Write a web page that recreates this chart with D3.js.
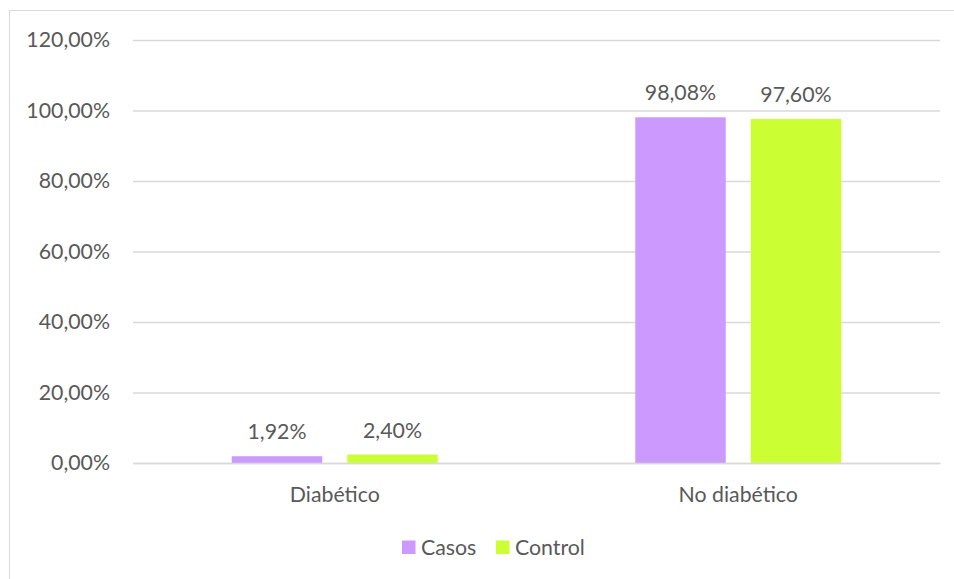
<!DOCTYPE html>
<html>
<head>
<meta charset="utf-8">
<script src="https://cdn.jsdelivr.net/npm/d3@7"></script>
<style>
  html, body { margin: 0; padding: 0; background: #ffffff; }
  svg { display: block; }
  text { font-family: Lato, "Open Sans", sans-serif; fill: #595959; }
</style>
</head>
<body>
<svg id="chart" width="954" height="579"></svg>
<script>
// Chart data
const categories = ["Diabético", "No diabético"];
const seriesNames = ["Casos", "Control"];
const casos = [1.92, 98.08];
const control = [2.40, 97.60];
const yTicks = [0, 20, 40, 60, 80, 100, 120];
const colors = ["#CC99FF", "#CCFF33"];

const seriesValues = [casos, control];
const rows = categories.map((c, i) => ({
  category: c,
  values: seriesNames.map((s, j) => ({ series: s, value: seriesValues[j][i], color: colors[j] }))
}));

const svg = d3.select("#chart");
const W = 954, H = 579;
const FONT = "Lato, 'Open Sans', sans-serif";
const FS = 21.3;

// Outer chart frame
svg.append("rect")
  .attr("x", 9.5).attr("y", 10.5)
  .attr("width", W - 9).attr("height", H)
  .attr("fill", "#fff").attr("stroke", "#d9d9d9").attr("stroke-width", 1);

const plot = { left: 133, right: 940, top: 40, bottom: 463 };

const y = d3.scaleLinear().domain([0, 120]).range([plot.bottom, plot.top]);
const x0 = d3.scaleBand().domain(categories).range([plot.left, plot.right])
  .paddingInner(0.4895).paddingOuter(0.24475);
const x1 = d3.scaleBand().domain(seriesNames).range([0, x0.bandwidth()]).paddingInner(0.2165);

const fmt = v => v.toFixed(2).replace(".", ",") + "%";

// Horizontal gridlines and value axis labels
const yAxis = d3.axisLeft(y).tickValues(yTicks).tickSize(-(plot.right - plot.left)).tickFormat(fmt).tickPadding(23);
const gy = svg.append("g").attr("transform", `translate(${plot.left},0)`).call(yAxis);
gy.select(".domain").remove();
gy.selectAll(".tick line").attr("stroke", "#d9d9d9").attr("stroke-width", 1.3);
gy.selectAll(".tick text")
  .attr("font-family", FONT)
  .attr("font-size", FS).attr("fill", "#595959");

// Bars
const groups = svg.append("g").selectAll("g").data(rows).join("g")
  .attr("transform", d => `translate(${x0(d.category)},0)`);

groups.selectAll("rect").data(d => d.values).join("rect")
  .attr("x", d => x1(d.series))
  .attr("y", d => y(d.value))
  .attr("width", x1.bandwidth())
  .attr("height", d => y(0) - y(d.value))
  .attr("fill", d => d.color);

// Value labels
groups.selectAll("text.val").data(d => d.values).join("text")
  .attr("class", "val")
  .attr("x", d => x1(d.series) + x1.bandwidth() / 2)
  .attr("y", d => y(d.value) - 17)
  .attr("text-anchor", "middle")
  .attr("font-size", FS)
  .text(d => fmt(d.value));

// Category axis labels
const xAxis = d3.axisBottom(x0).tickSize(0).tickPadding(24);
const gx = svg.append("g").attr("transform", `translate(0,${plot.bottom})`).call(xAxis);
gx.select(".domain").attr("stroke", "#d9d9d9").attr("stroke-width", 1.3);
gx.selectAll(".tick text")
  .attr("font-family", FONT)
  .attr("font-size", FS).attr("fill", "#595959");

// Legend
const legendItems = [
  { name: seriesNames[0], color: colors[0], x: 402 },
  { name: seriesNames[1], color: colors[1], x: 496 }
];
const lg = svg.append("g");
legendItems.forEach(it => {
  lg.append("rect").attr("x", it.x).attr("y", 540.5).attr("width", 13.5).attr("height", 13.5).attr("fill", it.color);
  lg.append("text").attr("x", it.x + 19).attr("y", 554.5).attr("font-size", FS).text(it.name);
});
</script>
</body>
</html>
